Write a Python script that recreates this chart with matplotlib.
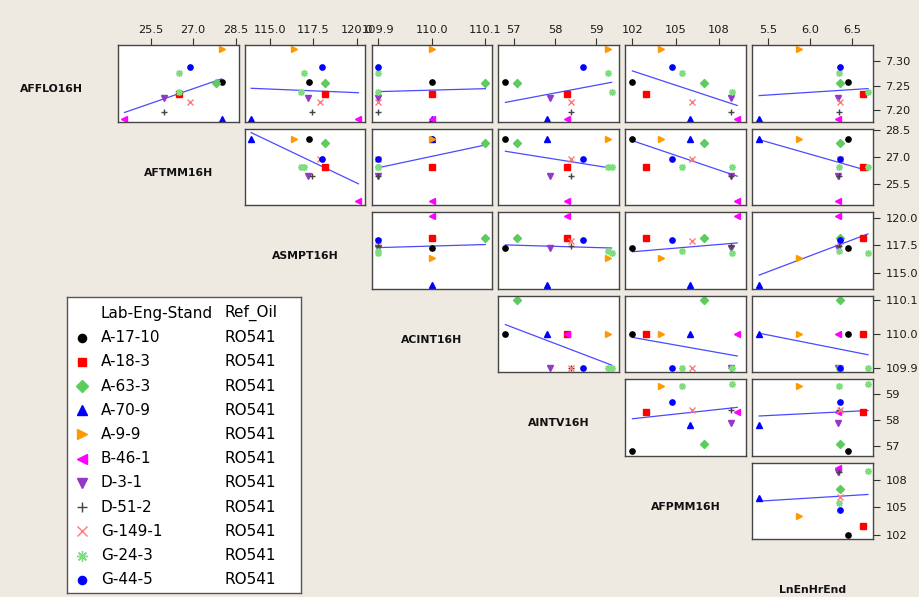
import numpy as np
import matplotlib.pyplot as plt

# 参考油 RO541 各台架试验结果 — 上三角散点矩阵 + 最小二乘拟合线

stands = ["A-17-10", "A-18-3", "A-63-3", "A-70-9", "A-9-9", "B-46-1",
          "D-3-1", "D-51-2", "G-149-1", "G-24-3", "G-44-5"]
ref_oil = ["RO541"] * len(stands)

# 每次试验对应的台架（G-24-3 有两次）
test_stand = ["A-17-10", "A-18-3", "A-63-3", "A-70-9", "A-9-9", "B-46-1",
              "D-3-1", "D-51-2", "G-149-1", "G-24-3", "G-24-3", "G-44-5"]

afflo16h = [7.258, 7.233, 7.256, 7.182, 7.325, 7.182, 7.225, 7.195, 7.216, 7.277, 7.237, 7.289]
aftmm16h = [28.0, 26.48, 27.79, 28.0, 28.0, 24.57, 25.95, 25.95, 26.89, 26.48, 26.48, 26.88]
asmpt16h = [117.25, 118.17, 118.17, 113.9, 116.35, 120.1, 117.2, 117.4, 117.88, 116.95, 116.8, 117.98]
acint16h = [110.0, 110.0, 110.1, 110.0, 110.0, 110.0, 109.9, 109.9, 109.9, 109.9, 109.9, 109.9]
aintv16h = [56.8, 58.28, 57.08, 57.8, 59.28, 58.28, 57.87, 58.38, 58.38, 59.28, 59.37, 58.67]
afpmm16h = [102.0, 102.95, 107.0, 106.0, 104.0, 109.3, 108.85, 108.85, 106.15, 105.45, 108.95, 104.75]
lnenhrend = [6.448, 6.625, 6.355, 5.39, 5.863, 6.327, 6.327, 6.347, 6.359, 6.347, 6.69, 6.355]

names = ["AFFLO16H", "AFTMM16H", "ASMPT16H", "ACINT16H", "AINTV16H", "AFPMM16H", "LnEnHrEnd"]
data = [afflo16h, aftmm16h, asmpt16h, acint16h, aintv16h, afpmm16h, lnenhrend]

# 坐标范围与刻度
lims = [(7.1755, 7.334), (24.33, 28.6), (113.52, 120.5), (109.887, 110.113),
        (56.63, 59.555), (101.5, 109.92), (5.307, 6.75)]
ticks = [[7.20, 7.25, 7.30], [25.5, 27.0, 28.5], [115.0, 117.5, 120.0],
         [109.9, 110.0, 110.1], [57, 58, 59], [102, 105, 108], [5.5, 6.0, 6.5]]
fmts = ["%.2f", "%.1f", "%.1f", "%.1f", "%d", "%d", "%.1f"]

# 每个台架的标记样式
markers = ["o", "s", "D", "^", ">", "<", "v", "+", "x", (8, 2, 0), "o"]
colors = ["#000000", "#ff0000", "#5fcb5f", "#0000ff", "#ff9900", "#ff00ff",
          "#9438c8", "#444444", "#ff7a7a", "#7fdc7f", "#0000ff"]
sizes = [3.8, 3.8, 3.8, 4.4, 4.4, 4.4, 4.4, 4.8, 4.4, 5.0, 3.8]

bg = "#eeeae1"
W, H = 919, 597
fig = plt.figure(figsize=(W / 100, H / 100), dpi=100, facecolor=bg)


def px_axes(x, y, w, h):
    return fig.add_axes([x / W, 1 - (y + h) / H, w / W, h / H])


x0, y0 = 117.7, 45.0
step_x, step_y = 126.9, 83.5
pw, ph = 120.8, 76.8

for i in range(6):
    for j in range(i, 6):
        ax = px_axes(x0 + j * step_x, y0 + i * step_y, pw, ph)
        xv = np.array(data[j + 1])
        yv = np.array(data[i])
        for k, st in enumerate(test_stand):
            s = stands.index(st)
            ax.plot(xv[k], yv[k], linestyle="none", marker=markers[s],
                    color=colors[s], markersize=sizes[s], markeredgewidth=1.0)
        # 拟合线
        b, a = np.polyfit(xv, yv, 1)
        xx = np.array([xv.min(), xv.max()])
        ax.plot(xx, a + b * xx, color="#4a4aff", lw=0.9, zorder=1)

        ax.set_xlim(lims[j + 1])
        ax.set_ylim(lims[i])
        ax.set_facecolor("white")
        for sp in ax.spines.values():
            sp.set_color("#454545")
            sp.set_linewidth(1.0)
        ax.tick_params(length=5, width=0.8, color="#333333", labelsize=8.2,
                       labelcolor="#1a1a1a")
        if i == 0:
            ax.xaxis.tick_top()
            ax.set_xticks(ticks[j + 1])
            ax.set_xticklabels([fmts[j + 1] % t for t in ticks[j + 1]])
            ax.tick_params(axis="x", pad=2.5)
        else:
            ax.set_xticks([])
        if j == 5:
            ax.yaxis.tick_right()
            ax.set_yticks(ticks[i])
            ax.set_yticklabels([fmts[i] % t for t in ticks[i]])
            ax.tick_params(axis="y", pad=4)
        else:
            ax.set_yticks([])

# 变量名放在对角线位置
for i, nm in enumerate(names):
    cx = x0 + (i - 1) * step_x + pw / 2
    cy = y0 + i * step_y + ph / 2 + 6
    fig.text(cx / W, 1 - cy / H, nm, ha="center", va="center",
             fontsize=7.8, fontweight="bold", color="#111111")

# 图例
lx, ly, lw_, lh = 66.7, 297.3, 234.0, 296.0
lax = px_axes(lx, ly, lw_, lh)
lax.set_xlim(0, lw_)
lax.set_ylim(lh, 0)
lax.set_xticks([])
lax.set_yticks([])
lax.set_facecolor("white")
for sp in lax.spines.values():
    sp.set_color("#555555")
    sp.set_linewidth(1.0)
lax.text(34, 16, "Lab-Eng-Stand", fontsize=11, va="center", ha="left")
lax.text(157.6, 16, "Ref_Oil", fontsize=11, va="center", ha="left")
for s, st in enumerate(stands):
    yy = 40.4 + s * 24.2
    lax.plot(15, yy, linestyle="none", marker=markers[s], color=colors[s],
             markersize=sizes[s] * 1.55, markeredgewidth=1.0)
    lax.text(34, yy, st, fontsize=11, va="center", ha="left")
    lax.text(157.6, yy, ref_oil[s], fontsize=11, va="center", ha="left")

fig.savefig("out.png", dpi=100, facecolor=bg)
